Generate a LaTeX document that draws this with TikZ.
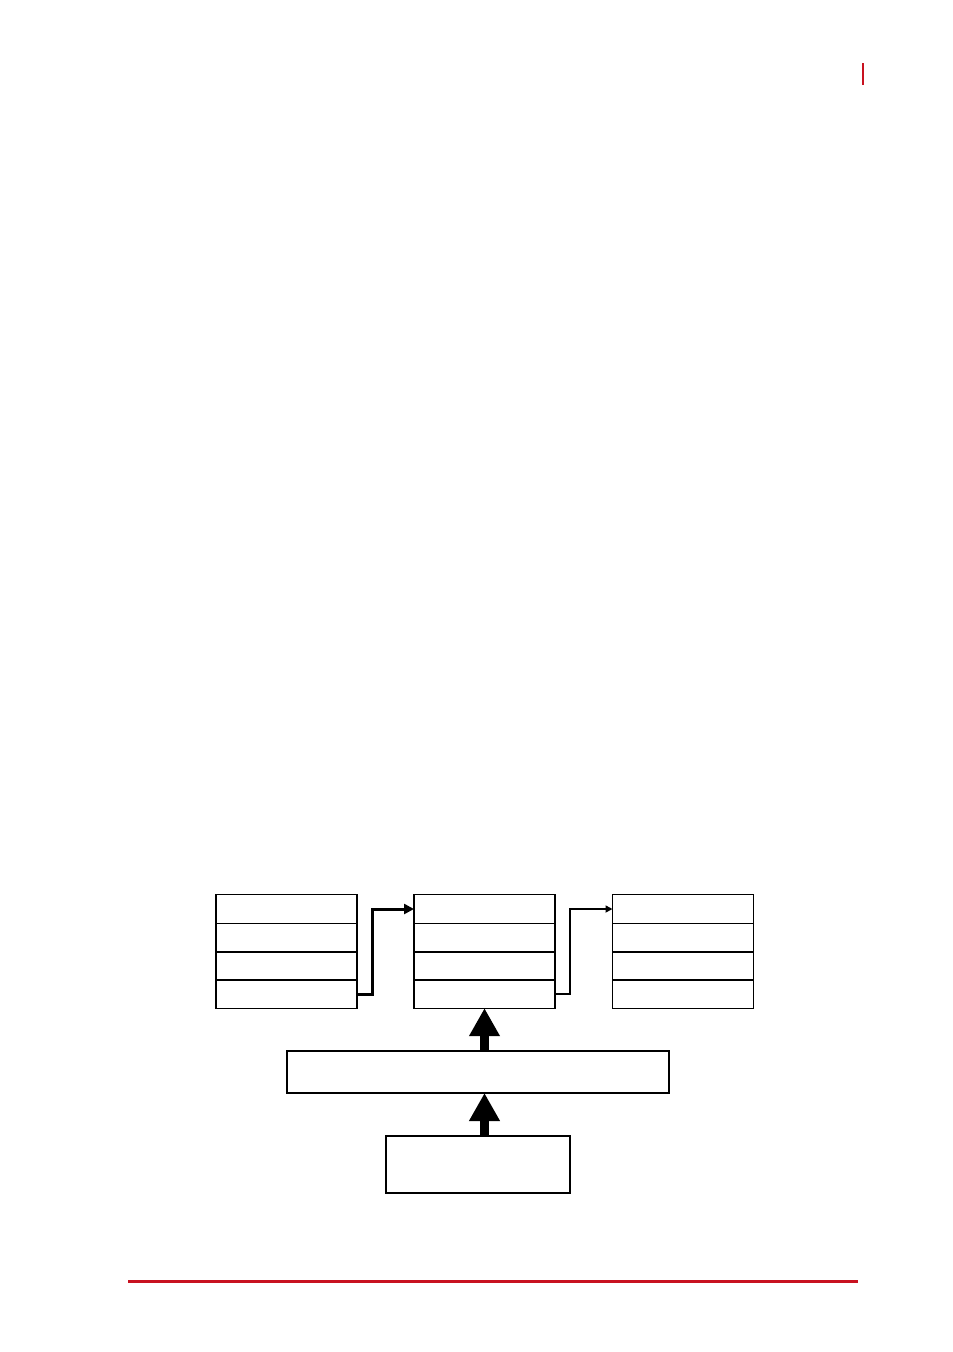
\documentclass[tikz,border=0pt]{standalone}
\usepackage{xcolor}
\usetikzlibrary{arrows.meta}
\definecolor{pagered}{RGB}{200,18,32}
\begin{document}
\begin{tikzpicture}[x=1pt,y=-1pt,
    cell/.style={draw,line width=1.2pt,minimum width=141pt,minimum height=28.3pt,inner sep=0pt,outer sep=0pt},
    panel/.style={draw,line width=1.2pt,inner sep=0pt,outer sep=0pt},
    link/.style={line width=3pt,-{Triangle[width=10pt,length=10pt]}},
    thinlink/.style={line width=1.6pt,-{Triangle[width=7pt,length=7pt]}},
    bigarrow/.style={line width=9pt,-{Triangle[width=29pt,length=28pt]}}]
    \useasboundingbox (0,0) rectangle (953,1352);
    \draw[pagered,line width=2.5pt](863,63)--(863,85);
    \draw[pagered,line width=3pt](128,1281.5)--(858,1281.5);
    \node[cell] (l1) at (286.5,909){};
    \node[cell] (l2) at (286.5,937.5){};
    \node[cell] (l3) at (286.5,966){};
    \node[cell] (l4) at (286.5,994){};
    \node[cell] (m1) at (484.5,909){};
    \node[cell] (m2) at (484.5,937.5){};
    \node[cell] (m3) at (484.5,966){};
    \node[cell] (m4) at (484.5,994){};
    \node[cell] (r1) at (683,909){};
    \node[cell] (r2) at (683,937.5){};
    \node[cell] (r3) at (683,966){};
    \node[cell] (r4) at (683,994){};
    \draw[line width=2pt](l3.north west)--(l3.north east);
    \draw[line width=2pt](m3.north west)--(m3.north east);
    \draw[line width=2pt](r3.north west)--(r3.north east);
    \node[panel,minimum width=382pt,minimum height=42pt] (bus) at (478,1072){};
    \node[panel,minimum width=184pt,minimum height=57pt] (base) at (478,1164.5){};
    \draw[link](l4.east)--++(15,0)|-(m1.west);
    \draw[thinlink](m4.east)--++(15,0)|-(r1.west);
    \draw[bigarrow](m4.south |- bus.north)--(m4.south);
    \draw[bigarrow](m4.south |- base.north)--(m4.south |- bus.south);
\end{tikzpicture}
\end{document}
